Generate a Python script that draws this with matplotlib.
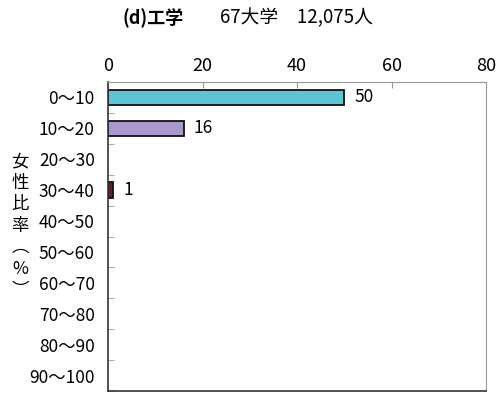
import matplotlib.pyplot as plt
import numpy as np

plt.rcParams['font.family'] = ['Noto Sans CJK JP', 'DejaVu Sans']

categories = ['0～10', '10～20', '20～30', '30～40', '40～50',
              '50～60', '60～70', '70～80', '80～90', '90～100']
counts = [50, 16, 0, 1, 0, 0, 0, 0, 0, 0]
colors = ['#5cc6d6', '#a898cc', '#ffffff', '#6e1c1c', '#ffffff',
          '#ffffff', '#ffffff', '#ffffff', '#ffffff', '#ffffff']

fig = plt.figure(figsize=(5, 3.96), dpi=100)
ax = fig.add_axes([108 / 500, 1 - 391 / 396, 378 / 500, 309 / 396])

y = np.arange(len(categories))
for i, (v, c) in enumerate(zip(counts, colors)):
    if v > 0:
        ax.barh(i, v, height=0.5, color=c, edgecolor='#111111', linewidth=1.3)
        ax.text(v + 2.2, i, str(v), va='center', ha='left', fontsize=12.5)

ax.set_xlim(0, 80)
ax.set_ylim(len(categories) - 0.5, -0.5)
ax.xaxis.tick_top()
ax.set_xticks([0, 20, 40, 60, 80])
ax.tick_params(axis='x', direction='in', length=4, color='#999999', labelsize=13, pad=5)
ax.set_yticks(y)
ax.set_yticklabels(categories)
ax.set_yticks(np.arange(-0.5, len(categories), 1), minor=True)
ax.tick_params(axis='y', which='major', length=0, labelsize=12.5, pad=9.5)
ax.tick_params(axis='y', which='minor', direction='in', length=4, color='#999999')

for s in ['top', 'right']:
    ax.spines[s].set_color('#999999')
for s in ['left', 'bottom']:
    ax.spines[s].set_color('#333333')
    ax.spines[s].set_linewidth(1.2)

fig.text(0.04, 0.43, '女\n性\n比\n率\n︵\n%\n︶', ha='center', va='center',
         fontsize=12.5, linespacing=1.25)

fig.text(0.244, 0.955, '(d)工学', ha='left', va='center', fontsize=13, fontweight='bold')
fig.text(0.44, 0.955, '67大学　12,075人', ha='left', va='center', fontsize=13.5)

fig.savefig('out.png', dpi=100)
